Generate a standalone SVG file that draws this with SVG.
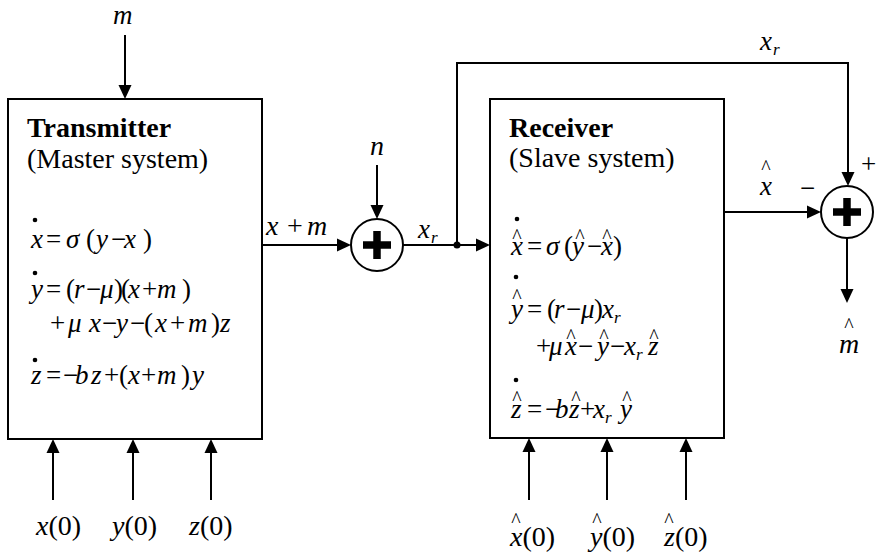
<svg xmlns="http://www.w3.org/2000/svg" width="882" height="559" viewBox="0 0 882 559">
<style>
.t{font-family:"Liberation Serif","Times New Roman",serif;font-size:27px;fill:#000}
.lg{font-size:28px}
.i{font-style:italic}
.b{font-weight:bold}
.s{font-size:17px;font-style:italic}
.h{font-family:"Liberation Serif","Times New Roman",serif;font-size:20px;text-anchor:middle;fill:#000}
.ln{stroke:#000;stroke-width:2;fill:none}
.box{fill:#fff;stroke:#000;stroke-width:2}
.sum{fill:#fff;stroke:#000;stroke-width:2}
.plus{stroke:#000;stroke-width:7.5}
</style>
<defs>
<marker id="ah" viewBox="0 0 14 14" refX="10" refY="7" markerWidth="14" markerHeight="14" markerUnits="userSpaceOnUse" orient="auto"><path d="M0,0.5 L14,7 L0,13.5 z" fill="#000"/></marker>
</defs>
<rect width="882" height="559" fill="#fff"/>

<g id="transmitter">
<rect class="box" x="8" y="99" width="254" height="340"/>
<text class="t lg b" x="27" y="137">Transmitter</text>
<text class="t lg" x="27" y="168">(Master system)</text>
<circle cx="35" cy="220" r="2.3"/>
<text class="t" y="248"><tspan class="i" x="31">x</tspan><tspan x="46">=</tspan><tspan class="i" x="66">σ</tspan><tspan x="86">(</tspan><tspan class="i" x="96">y</tspan><tspan x="111">−</tspan><tspan class="i" x="124">x</tspan><tspan x="143">)</tspan></text>
<circle cx="35" cy="273" r="2.3"/>
<text class="t" y="298"><tspan class="i" x="31">y</tspan><tspan x="46">=</tspan><tspan x="66">(</tspan><tspan class="i" x="74">r</tspan><tspan x="86">−</tspan><tspan class="i" x="100">μ</tspan><tspan x="114">)</tspan><tspan x="121">(</tspan><tspan class="i" x="128">x</tspan><tspan x="142">+</tspan><tspan class="i" x="157">m</tspan><tspan x="182">)</tspan></text>
<text class="t" y="332"><tspan x="50">+</tspan><tspan class="i" x="68">μ</tspan><tspan class="i" x="89">x</tspan><tspan x="102">−</tspan><tspan class="i" x="116">y</tspan><tspan x="130">−</tspan><tspan x="144">(</tspan><tspan class="i" x="155">x</tspan><tspan x="170">+</tspan><tspan class="i" x="188">m</tspan><tspan x="211">)</tspan><tspan class="i" x="220">z</tspan></text>
<circle cx="35" cy="360" r="2.3"/>
<text class="t" y="384"><tspan class="i" x="31">z</tspan><tspan x="46">=</tspan><tspan x="63">−</tspan><tspan class="i" x="75">b</tspan><tspan class="i" x="91">z</tspan><tspan x="104">+</tspan><tspan x="119">(</tspan><tspan class="i" x="128">x</tspan><tspan x="141">+</tspan><tspan class="i" x="157">m</tspan><tspan x="181">)</tspan><tspan class="i" x="192">y</tspan></text>
</g>

<g id="receiver">
<rect class="box" x="490" y="99" width="234" height="339"/>
<text class="t lg b" x="509" y="137">Receiver</text>
<text class="t lg" x="509" y="167">(Slave system)</text>
<circle cx="517" cy="219" r="2.3"/>
<text class="h" y="243"><tspan x="517">^</tspan><tspan x="580">^</tspan><tspan x="607">^</tspan></text>
<text class="t" y="255"><tspan class="i" x="511">x</tspan><tspan x="527">=</tspan><tspan class="i" x="546">σ</tspan><tspan x="564">(</tspan><tspan class="i" x="572">y</tspan><tspan x="587">−</tspan><tspan class="i" x="601">x</tspan><tspan x="613">)</tspan></text>
<circle cx="516" cy="277" r="2.3"/>
<text class="h" y="303"><tspan x="517">^</tspan></text>
<text class="t" y="318"><tspan class="i" x="511">y</tspan><tspan x="527">=</tspan><tspan x="547">(</tspan><tspan class="i" x="554">r</tspan><tspan x="566">−</tspan><tspan class="i" x="581">μ</tspan><tspan x="594">)</tspan><tspan class="i" x="602">x</tspan><tspan class="s" x="614" dy="5">r</tspan></text>
<text class="h" y="343"><tspan x="571">^</tspan><tspan x="604">^</tspan><tspan x="654">^</tspan></text>
<text class="t" y="355"><tspan x="536">+</tspan><tspan class="i" x="549">μ</tspan><tspan class="i" x="565">x</tspan><tspan x="578">−</tspan><tspan class="i" x="597">y</tspan><tspan x="610">−</tspan><tspan class="i" x="624">x</tspan><tspan class="s" x="636" dy="5">r</tspan><tspan class="i" x="648" dy="-5">z</tspan></text>
<circle cx="516" cy="380" r="2.3"/>
<text class="h" y="405"><tspan x="517">^</tspan><tspan x="576">^</tspan><tspan x="627">^</tspan></text>
<text class="t" y="418"><tspan class="i" x="511">z</tspan><tspan x="527">=</tspan><tspan x="545">−</tspan><tspan class="i" x="555">b</tspan><tspan class="i" x="569">z</tspan><tspan x="580">+</tspan><tspan class="i" x="593">x</tspan><tspan class="s" x="605" dy="5">r</tspan><tspan class="i" x="620" dy="-5">y</tspan></text>
</g>

<g id="sum1">
<circle class="sum" cx="377" cy="245" r="26"/>
<line class="plus" x1="363" y1="245" x2="391" y2="245"/>
<line class="plus" x1="377" y1="231" x2="377" y2="259"/>
</g>

<g id="sum2">
<circle class="sum" cx="847" cy="212" r="26"/>
<line class="plus" x1="833" y1="212" x2="861" y2="212"/>
<line class="plus" x1="847" y1="198" x2="847" y2="226"/>
</g>

<g id="connectors">
<path class="ln" d="M125,35 V95" marker-end="url(#ah)"/>
<path class="ln" d="M377,165 V215" marker-end="url(#ah)"/>
<path class="ln" d="M262,245 H347" marker-end="url(#ah)"/>
<path class="ln" d="M403,245 H486" marker-end="url(#ah)"/>
<circle cx="457" cy="245" r="3.5"/>
<path class="ln" d="M457,245 V63 H848 V182" marker-end="url(#ah)"/>
<path class="ln" d="M724,212 H817" marker-end="url(#ah)"/>
<path class="ln" d="M847,238 V299" marker-end="url(#ah)"/>
<path class="ln" d="M53,500 V443" marker-end="url(#ah)"/>
<path class="ln" d="M133,500 V443" marker-end="url(#ah)"/>
<path class="ln" d="M211,500 V443" marker-end="url(#ah)"/>
<path class="ln" d="M529,500 V442" marker-end="url(#ah)"/>
<path class="ln" d="M607,500 V442" marker-end="url(#ah)"/>
<path class="ln" d="M686,500 V442" marker-end="url(#ah)"/>
</g>

<g id="labels">
<text class="t i" x="113" y="24">m</text>
<text class="t i lg" x="370" y="155">n</text>
<text class="t lg" y="235"><tspan class="i" x="266">x</tspan><tspan x="287">+</tspan><tspan class="i" x="307">m</tspan></text>
<text class="t" y="238"><tspan class="i" x="418">x</tspan><tspan class="s" x="431" dy="5">r</tspan></text>
<text class="t" y="50"><tspan class="i" x="760">x</tspan><tspan class="s" x="773" dy="5">r</tspan></text>
<text class="h" x="766" y="174">^</text>
<text class="t i" x="760" y="195">x</text>
<text class="t" x="800" y="197">−</text>
<text class="t" x="861" y="173">+</text>
<text class="h" x="849" y="332">^</text>
<text class="t i lg" x="839" y="353">m</text>
<text class="t lg" x="36" y="535"><tspan class="i">x</tspan>(0)</text>
<text class="t lg" x="112" y="535"><tspan class="i">y</tspan>(0)</text>
<text class="t lg" x="189" y="535"><tspan class="i">z</tspan>(0)</text>
<text class="h" y="527"><tspan x="516">^</tspan><tspan x="597">^</tspan><tspan x="669">^</tspan></text>
<text class="t lg" x="510" y="546"><tspan class="i">x</tspan>(0)</text>
<text class="t lg" x="590" y="546"><tspan class="i">y</tspan>(0)</text>
<text class="t lg" x="664" y="546"><tspan class="i">z</tspan>(0)</text>
</g>
</svg>
